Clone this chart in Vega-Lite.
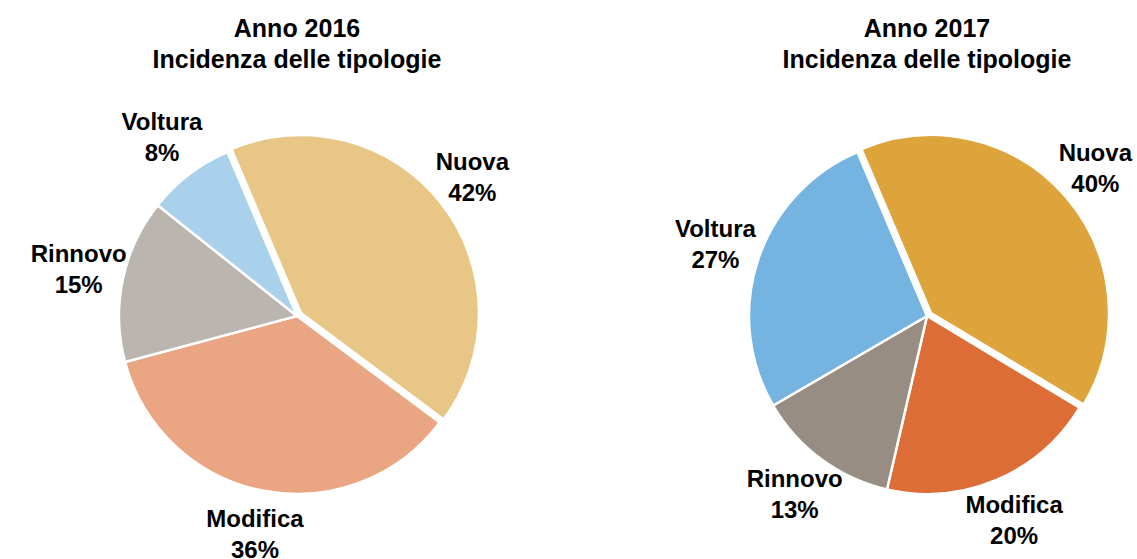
{
  "$schema": "https://vega.github.io/schema/vega-lite/v6.json",
  "background": "white",
  "padding": {"left": 0, "right": 0, "top": 17, "bottom": 0},
  "spacing": 80,
  "config": {
    "view": {"stroke": null},
    "font": "Liberation Sans",
    "title": {"fontSize": 25, "fontWeight": "bold", "lineHeight": 31, "color": "black", "anchor": "middle", "offset": 8}
  },
  "datasets": {
    "y2016": [
      {"name": "Nuova", "pct": 42, "ord": 1},
      {"name": "Modifica", "pct": 36, "ord": 2},
      {"name": "Rinnovo", "pct": 15, "ord": 3},
      {"name": "Voltura", "pct": 8, "ord": 4}
    ],
    "y2017": [
      {"name": "Nuova", "pct": 40, "ord": 1},
      {"name": "Modifica", "pct": 20, "ord": 2},
      {"name": "Rinnovo", "pct": 13, "ord": 3},
      {"name": "Voltura", "pct": 27, "ord": 4}
    ]
  },
  "resolve": {"scale": {"color": "independent", "theta": "independent"}},
  "hconcat": [
    {
      "title": {"text": ["Anno 2016", "Incidenza delle tipologie"]},
      "width": 594,
      "height": 470,
      "data": {"name": "y2016"},
      "transform": [{"calculate": "datum.name + '\\n' + datum.pct + '%'", "as": "label"}],
      "encoding": {
        "theta": {"field": "pct", "type": "quantitative", "stack": true, "scale": {"range": [-0.4014, 5.8818]}},
        "order": {"field": "ord", "type": "quantitative"}
      },
      "layer": [
        {
          "mark": {"type": "arc", "outerRadius": 178, "stroke": "white", "strokeWidth": 2.5},
          "encoding": {
            "color": {"field": "name", "type": "nominal", "legend": null,
              "scale": {"domain": ["Nuova", "Modifica", "Rinnovo", "Voltura"], "range": ["#E8C686", "#EAA582", "#BAB5AF", "#A9D1EC"]}},
            "opacity": {"condition": {"test": "datum.name === 'Nuova'", "value": 0}, "value": 1}
          }
        },
        {
          "mark": {"type": "arc", "outerRadius": 178, "stroke": "white", "strokeWidth": 2.5, "xOffset": 4, "yOffset": -3},
          "encoding": {
            "color": {"field": "name", "type": "nominal", "legend": null},
            "opacity": {"condition": {"test": "datum.name === 'Nuova'", "value": 1}, "value": 0}
          }
        },
        {
          "mark": {"type": "text", "radius": 223, "dy": -15.5, "fontSize": 24, "fontWeight": "bold", "lineBreak": "\n", "lineHeight": 31, "baseline": "middle", "align": "center", "color": "black"},
          "encoding": {"text": {"field": "label"}}
        }
      ]
    },
    {
      "title": {"text": ["Anno 2017", "Incidenza delle tipologie"]},
      "width": 418,
      "height": 470,
      "data": {"name": "y2017"},
      "transform": [{"calculate": "datum.name + '\\n' + datum.pct + '%'", "as": "label"}],
      "encoding": {
        "theta": {"field": "pct", "type": "quantitative", "stack": true, "scale": {"range": [-0.4014, 5.8818]}},
        "order": {"field": "ord", "type": "quantitative"}
      },
      "layer": [
        {
          "mark": {"type": "arc", "outerRadius": 178, "stroke": "white", "strokeWidth": 2.5},
          "encoding": {
            "color": {"field": "name", "type": "nominal", "legend": null,
              "scale": {"domain": ["Nuova", "Modifica", "Rinnovo", "Voltura"], "range": ["#DCA43A", "#DD6D37", "#978D83", "#75B3E0"]}},
            "opacity": {"condition": {"test": "datum.name === 'Nuova'", "value": 0}, "value": 1}
          }
        },
        {
          "mark": {"type": "arc", "outerRadius": 178, "stroke": "white", "strokeWidth": 2.5, "xOffset": 4, "yOffset": -3},
          "encoding": {
            "color": {"field": "name", "type": "nominal", "legend": null},
            "opacity": {"condition": {"test": "datum.name === 'Nuova'", "value": 1}, "value": 0}
          }
        },
        {
          "mark": {"type": "text", "radius": 223, "dy": -15.5, "fontSize": 24, "fontWeight": "bold", "lineBreak": "\n", "lineHeight": 31, "baseline": "middle", "align": "center", "color": "black"},
          "encoding": {"text": {"field": "label"}}
        }
      ]
    }
  ]
}
